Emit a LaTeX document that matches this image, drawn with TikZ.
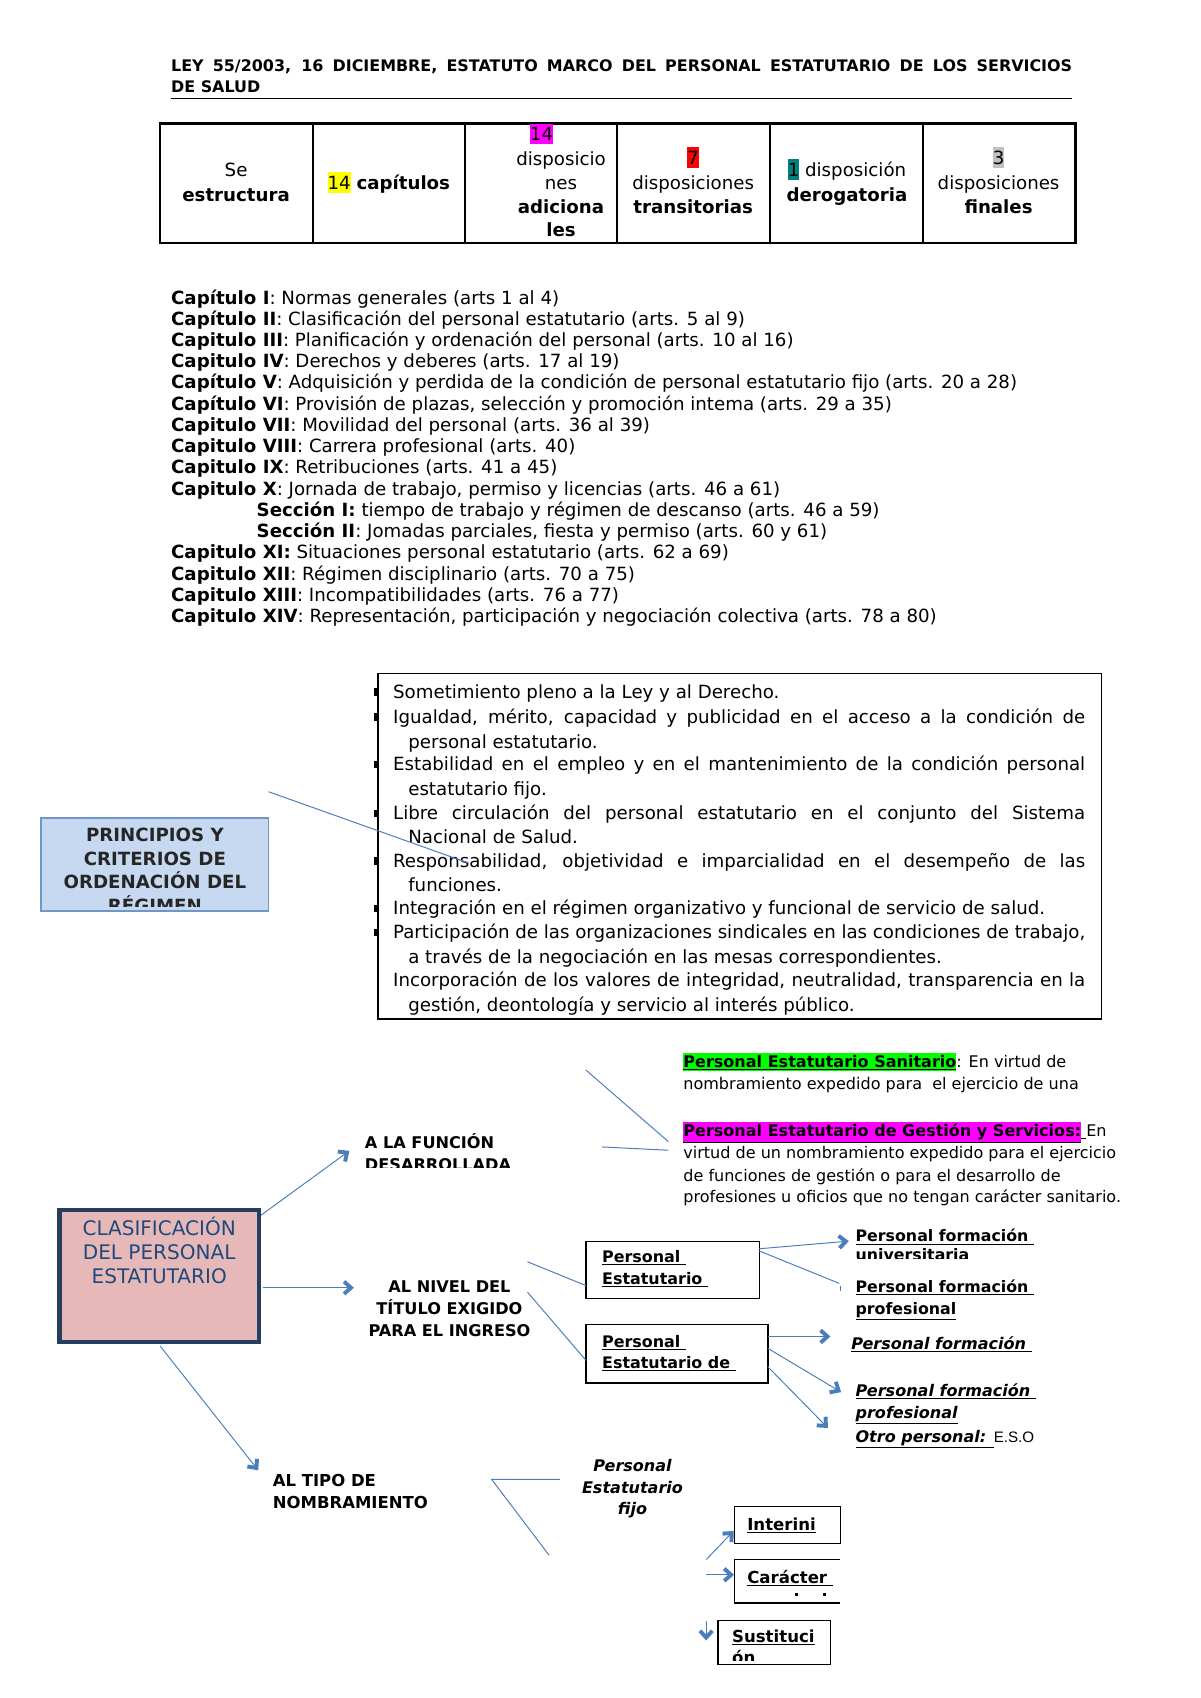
\documentclass[tikz,border=0pt]{standalone}
\usepackage{fontspec}
\setmainfont{DejaVu Sans}
\newfontfamily\arialf{Liberation Sans}
\usetikzlibrary{arrows.meta,calc}
\definecolor{lblue}{HTML}{4A7EBB}
\definecolor{pfill}{HTML}{C6D9F1}
\definecolor{pdraw}{HTML}{7096C8}
\definecolor{cfill}{HTML}{E6B9B8}
\definecolor{cdraw}{HTML}{243F60}
\definecolor{ctext}{HTML}{1F497D}
\definecolor{hlgreen}{HTML}{00FF00}
\definecolor{hlmag}{HTML}{FF00FF}
\definecolor{hlred}{HTML}{FF0000}
\definecolor{hlteal}{HTML}{008080}
\definecolor{hlgray}{HTML}{C0C0C0}
\definecolor{hlyel}{HTML}{FFFF00}
\newcommand\hl[2]{{\setlength{\fboxsep}{0pt}\colorbox{#1}{\vphantom{Ág}#2}}}
\newcommand\jl[2]{\makebox[#1][s]{#2}}
% thin connector with a thick chevron head
\newcommand\arrowline[2]{%
  \draw[conn] (#1) -- (#2);
  \draw[chev] ($($(#2)!2pt!(#1)$)!8.5pt!42:(#1)$) -- ($(#2)!2pt!(#1)$) -- ($($(#2)!2pt!(#1)$)!8.5pt!-42:(#1)$);}
\tikzset{
  txt/.style={yshift=-3pt},
  hdr/.style={txt, font=\fontsize{14.7}{17}\selectfont\bfseries, anchor=mid west},
  tb/.style={txt, font=\fontsize{16.8}{19.6}\selectfont, anchor=mid},
  chap/.style={txt, font=\fontsize{16.8}{19.6}\selectfont, anchor=mid west},
  pr/.style={txt, font=\fontsize{16.8}{22}\selectfont, anchor=mid west},
  prc/.style={txt, font=\fontsize{16.8}{22}\selectfont\bfseries, anchor=mid, text=black!85},
  desc/.style={txt, font=\fontsize{14.8}{20}\selectfont, anchor=mid west},
  lab/.style={txt, font=\fontsize{14.9}{20}\selectfont\bfseries, anchor=mid west},
  labc/.style={txt, font=\fontsize{14.9}{20}\selectfont\bfseries, anchor=mid},
  labt/.style={txt, font=\fontsize{15.2}{20}\selectfont\bfseries, anchor=mid west},
  clas/.style={txt, font=\fontsize{18.5}{22}\selectfont, anchor=mid, text=ctext},
  bx/.style={txt, font=\fontsize{14.7}{20}\selectfont\bfseries, anchor=mid west},
  bxs/.style={txt, font=\fontsize{15.3}{20}\selectfont\bfseries, anchor=mid west},
  leaf/.style={txt, font=\fontsize{14.6}{20}\selectfont\bfseries, anchor=mid west},
  leafi/.style={txt, font=\fontsize{14.8}{20}\selectfont\bfseries\itshape, anchor=mid west},
  fijo/.style={txt, font=\fontsize{14.8}{20}\selectfont\bfseries\itshape, anchor=mid},
  conn/.style={draw=lblue, line width=0.9pt},
  chev/.style={draw=lblue, line width=3.6pt, line join=miter, line cap=butt},
  blk/.style={draw=black, line width=1.2pt},
}
\begin{document}
\begin{tikzpicture}[x=1pt,y=-1pt, every node/.style={inner sep=0pt, outer sep=0pt}]
\useasboundingbox[fill=white] (0,0) rectangle (1108,1567.8);

% header
\node[hdr] (h1) at (158,60) {\jl{832pt}{LEY 55/2003, 16 DICIEMBRE, ESTATUTO MARCO DEL PERSONAL ESTATUTARIO DE LOS SERVICIOS}};
\node[hdr] (h2) at (158,80) {DE SALUD};
\draw[line width=1.2pt] (158,91) coordinate (r1) -- (990,91) coordinate (r2);

% table
\draw[line width=2pt] (148,114) rectangle (993,224);
\foreach \xx in {289,429,570,711,852} \draw[line width=1.6pt] (\xx,114) -- (\xx,224);
\node[tb] (t1a) at (218,157) {Se};
\node[tb] (t1b) at (218,180) {\bfseries estructura};
\node[tb] (t2) at (359,169) {\hl{hlyel}{14} \bfseries capítulos};
\node[tb] (t3a) at (500,124) {\hl{hlmag}{14}};
\node[tb] (t3b) at (518,147) {disposicio};
\node[tb] (t3c) at (518,169) {nes};
\node[tb] (t3d) at (518,191) {\bfseries adiciona};
\node[tb] (t3e) at (518,213) {\bfseries les};
\node[tb] (t4a) at (640,146) {\hl{hlred}{7}};
\node[tb] (t4b) at (640,169) {disposiciones};
\node[tb] (t4c) at (640,191) {\bfseries transitorias};
\node[tb] (t5a) at (782,157) {\hl{hlteal}{1} disposición};
\node[tb] (t5b) at (782,180) {\bfseries derogatoria};
\node[tb] (t6a) at (922,146) {\hl{hlgray}{3}};
\node[tb] (t6b) at (922,169) {disposiciones};
\node[tb] (t6c) at (922,191) {\bfseries finales};

% chapters
\node[chap] (c1) at (158,275) {\textbf{Capítulo I}: Normas generales (arts 1 al 4)};
\node[chap] (c2) at (158,294.6) {\textbf{Capítulo II}: Clasificación del personal estatutario (arts. 5 al 9)};
\node[chap] (c3) at (158,314.2) {\textbf{Capitulo III}: Planificación y ordenación del personal (arts. 10 al 16)};
\node[chap] (c4) at (158,333.8) {\textbf{Capitulo IV}: Derechos y deberes (arts. 17 al 19)};
\node[chap] (c5) at (158,353.4) {\textbf{Capítulo V}: Adquisición y perdida de la condición de personal estatutario fijo (arts. 20 a 28)};
\node[chap] (c6) at (158,373) {\textbf{Capítulo VI}: Provisión de plazas, selección y promoción intema (arts. 29 a 35)};
\node[chap] (c7) at (158,392.6) {\textbf{Capitulo VII}: Movilidad del personal (arts. 36 al 39)};
\node[chap] (c8) at (158,412.2) {\textbf{Capitulo VIII}: Carrera profesional (arts. 40)};
\node[chap] (c9) at (158,431.8) {\textbf{Capitulo IX}: Retribuciones (arts. 41 a 45)};
\node[chap] (c10) at (158,451.4) {\textbf{Capitulo X}: Jornada de trabajo, permiso y licencias (arts. 46 a 61)};
\node[chap] (s1) at (237,471) {\textbf{Sección I:} tiempo de trabajo y régimen de descanso (arts. 46 a 59)};
\node[chap] (s2) at (237,490.6) {\textbf{Sección II}: Jomadas parciales, fiesta y permiso (arts. 60 y 61)};
\node[chap] (c11) at (158,510.2) {\textbf{Capitulo XI:} Situaciones personal estatutario (arts. 62 a 69)};
\node[chap] (c12) at (158,529.8) {\textbf{Capitulo XII}: Régimen disciplinario (arts. 70 a 75)};
\node[chap] (c13) at (158,549.4) {\textbf{Capitulo XIII}: Incompatibilidades (arts. 76 a 77)};
\node[chap] (c14) at (158,569) {\textbf{Capitulo XIV}: Representación, participación y negociación colectiva (arts. 78 a 80)};

% principles box
\draw[line width=1.3pt] (349,622) rectangle (1017,941);
\foreach \yy in {639,662,706,751,795,839,861} \fill (345,\yy-3.5) rectangle (349.5,\yy+3.5);
\node[pr] (p1) at (363,639) {Sometimiento pleno a la Ley y al Derecho.};
\node[pr] (p2) at (363,662) {\jl{639pt}{Igualdad, mérito, capacidad y publicidad en el acceso a la condición de}};
\node[pr] (p2b) at (377,685) {personal estatutario.};
\node[pr] (p3) at (363,706) {\jl{639pt}{Estabilidad en el empleo y en el mantenimiento de la condición personal}};
\node[pr] (p3b) at (377,729) {estatutario fijo.};
\node[pr] (p4) at (363,751) {\jl{639pt}{Libre circulación del personal estatutario en el conjunto del Sistema}};
\node[pr] (p4b) at (377,773) {Nacional de Salud.};
\node[pr] (p5) at (363,795) {\jl{639pt}{Responsabilidad, objetividad e imparcialidad en el desempeño de las}};
\node[pr] (p5b) at (377,817) {funciones.};
\node[pr] (p6) at (363,839) {Integración en el régimen organizativo y funcional de servicio de salud.};
\node[pr] (p7) at (363,861) {\jl{639pt}{Participación de las organizaciones sindicales en las condiciones de trabajo,}};
\node[pr] (p7b) at (377,884) {a través de la negociación en las mesas correspondientes.};
\node[pr] (p8) at (363,905) {\jl{639pt}{Incorporación de los valores de integridad, neutralidad, transparencia en la}};
\node[pr] (p8b) at (377,928) {gestión, deontología y servicio al interés público.};

% PRINCIPIOS box
\draw[fill=pfill, draw=pdraw, line width=1.5pt] (38,755) rectangle (248,841);
\begin{scope}
\clip (39,756) rectangle (247,837);
\node[prc] (q1) at (143,771) {PRINCIPIOS Y};
\node[prc] (q2) at (143,793) {CRITERIOS DE};
\node[prc] (q3) at (143,815) {ORDENACIÓN DEL};
\node[prc] (q4) at (143,837) {RÉGIMEN};
\end{scope}
\coordinate (pl1) at (248,731);
\coordinate (pl2) at (433,797);
\draw[conn] (pl1) -- (pl2);

% funcion descriptions
\node[desc] (d1) at (631,980) {\hl{hlgreen}{\bfseries\underline{Personal Estatutario Sanitario}}: En virtud de};
\node[desc] (d2) at (631,1000) {nombramiento expedido para \ el ejercicio de una};
\node[desc] (d3) at (631,1044) {\hl{hlmag}{\bfseries\underline{Personal Estatutario de Gestión y Servicios:}}\underline{\ }En};
\node[desc] (d4) at (631,1064) {virtud de un nombramiento expedido para el ejercicio};
\node[desc] (d5) at (631,1085) {de funciones de gestión o para el desarrollo de};
\node[desc] (d6) at (631,1105) {profesiones u oficios que no tengan carácter sanitario.};
\coordinate (f1a) at (541,988); \coordinate (f1b) at (617,1054);
\coordinate (f2a) at (556,1059); \coordinate (f2b) at (617,1062);
\draw[conn] (f1a) -- (f1b);
\draw[conn] (f2a) -- (f2b);

% A LA FUNCION
\begin{scope}
\clip (330,1040) rectangle (480,1078);
\node[lab] (fa) at (337,1055) {A LA FUNCIÓN};
\node[lab] (fb) at (337,1075) {DESARROLLADA};
\end{scope}

% CLASIFICACION box
\draw[fill=cfill, draw=cdraw, line width=4pt] (55,1117) rectangle (239,1239);
\node[clas] (k1) at (147,1135) {CLASIFICACIÓN};
\node[clas] (k2) at (147,1157) {DEL PERSONAL};
\node[clas] (k3) at (147,1179) {ESTATUTARIO};
\coordinate (a1s) at (241,1122); \coordinate (a1e) at (322,1063);
\coordinate (a2s) at (243,1189); \coordinate (a2e) at (326,1189);
\coordinate (a3s) at (148,1243); \coordinate (a3e) at (238,1357);
\arrowline{a1s}{a1e}
\arrowline{a2s}{a2e}
\arrowline{a3s}{a3e}

% AL NIVEL
\node[labc] (n1) at (415,1188) {AL NIVEL DEL};
\node[labc] (n2) at (415,1208) {TÍTULO EXIGIDO};
\node[labc] (n3) at (415,1228) {PARA EL INGRESO};
\coordinate (nl1) at (487,1165); \coordinate (nl2) at (487,1193);
\draw[blk] (541,1146) rectangle (701,1199);
\draw[blk] (541,1223) rectangle (709,1277);
\coordinate (b1w) at (541,1187); \coordinate (b2w) at (541,1256);
\draw[conn] (nl1) -- (b1w);
\draw[conn] (nl2) -- (b2w);
\node[bx] (b1a) at (556,1160) {\underline{Personal }};
\node[bx] (b1b) at (556,1180) {\underline{Estatutario }};
\node[bx] (b2a) at (556,1238) {\underline{Personal }};
\node[bx] (b2b) at (556,1258) {\underline{Estatutario de }};

% leaves of box 1
\begin{scope}
\clip (785,1125) rectangle (970,1162);
\node[leaf] (u1) at (790,1141) {\underline{Personal formación }};
\node[leaf] (u2) at (790,1158) {\underline{universitaria}};
\end{scope}
\node[leaf] (u3) at (790,1188) {\underline{Personal formación }};
\node[leaf] (u4) at (790,1208) {\underline{profesional}};
\coordinate (e1s) at (701,1153); \coordinate (e1e) at (783,1146);
\coordinate (e2s) at (701,1155); \coordinate (e2e) at (775,1185);
\arrowline{e1s}{e1e}
\draw[conn] (e2s) -- (e2e);
\draw[conn] (776,1187) -- (776,1192);

% leaves of box 2
\node[leafi] (g1) at (786,1240) {\underline{Personal formación }};
\node[leafi] (g2) at (790,1284) {\underline{Personal formación }};
\node[leafi] (g3) at (790,1304) {\underline{profesional}};
\node[leafi] (g4) at (790,1326) {\underline{Otro personal: }{\upshape\mdseries\arialf\fontsize{14}{20}\selectfont E.S.O}};
\coordinate (h1s) at (709,1234); \coordinate (h1e) at (766,1234);
\coordinate (h2s) at (709,1245); \coordinate (h2e) at (776,1285);
\coordinate (h3s) at (709,1262); \coordinate (h3e) at (764,1318);
\arrowline{h1s}{h1e}
\arrowline{h2s}{h2e}
\arrowline{h3s}{h3e}

% AL TIPO
\node[labt] (m1) at (252,1367) {AL TIPO DE};
\node[labt] (m2) at (252,1387) {NOMBRAMIENTO};
\coordinate (ml0) at (454,1366); \coordinate (ml1) at (517,1366); \coordinate (ml2) at (507,1436);
\draw[conn] (ml1) -- (ml0) -- (ml2);
\node[fijo] (j1) at (584,1353) {Personal};
\node[fijo] (j2) at (584,1373) {Estatutario};
\node[fijo] (j3) at (584,1393) {fijo};

\draw[blk] (678,1391) rectangle (776,1425);
\node[bxs] (i1) at (690,1407) {\underline{Interini}};
\draw[blk] (776,1440) -- (678,1440) -- (678,1480) -- (776,1480);
\node[bxs] (i2) at (690,1456) {\underline{Carácter }};
\fill (734,1471) rectangle (736.5,1474);
\fill (760,1471) rectangle (762.5,1474);
\draw[blk] (663,1496) rectangle (767,1537);
\begin{scope}
\clip (665,1498) rectangle (765,1533);
\node[bxs] (i3) at (676,1511) {\underline{Sustituci}};
\node[bxs] (i4) at (676,1530) {ón};
\end{scope}
\coordinate (z1s) at (652,1440); \coordinate (z1e) at (677,1414);
\coordinate (z2s) at (652,1454); \coordinate (z2e) at (677,1454);
\coordinate (z3s) at (652,1497); \coordinate (z3e) at (652,1514);
\arrowline{z1s}{z1e}
\arrowline{z2s}{z2e}
\arrowline{z3s}{z3e}
\end{tikzpicture}
\end{document}
